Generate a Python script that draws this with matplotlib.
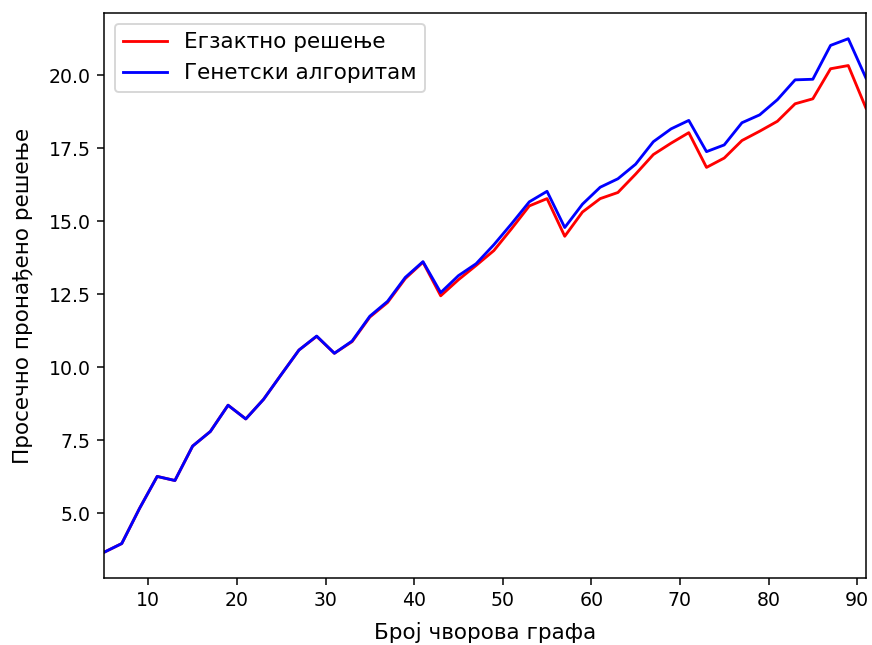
import numpy as np
import matplotlib
matplotlib.use("Agg")
import matplotlib.pyplot as plt

# broj cvorova grafa
nodes = np.arange(5, 92, 2)

exact = [3.66, 3.96, 5.16, 6.26, 6.12, 7.30, 7.80, 8.70, 8.23, 8.90,
         9.75, 10.59, 11.06, 10.48, 10.88, 11.72, 12.22, 13.04, 13.60, 12.45,
         13.00, 13.49, 14.00, 14.75, 15.53, 15.78, 14.49, 15.32, 15.78, 15.99,
         16.62, 17.29, 17.68, 18.04, 16.85, 17.17, 17.77, 18.09, 18.43, 19.03,
         19.20, 20.23, 20.34, 18.88]

genetic = [3.66, 3.96, 5.16, 6.26, 6.12, 7.30, 7.80, 8.70, 8.23, 8.90,
           9.75, 10.59, 11.07, 10.48, 10.90, 11.75, 12.26, 13.08, 13.62, 12.56,
           13.14, 13.55, 14.20, 14.92, 15.67, 16.03, 14.79, 15.59, 16.17, 16.46,
           16.96, 17.73, 18.17, 18.46, 17.39, 17.62, 18.38, 18.65, 19.17, 19.85,
           19.87, 21.03, 21.26, 19.91]

fig = plt.figure(figsize=(6.4, 4.734), dpi=136.25)
ax = fig.add_axes([0.1193, 0.1039, 0.8738, 0.8759])

ax.plot(nodes, exact, color="red", label="Егзактно решење")
ax.plot(nodes, genetic, color="blue", label="Генетски алгоритам")

ax.set_xlim(5, 91)
ax.set_xlabel("Број чворова графа", fontsize=11.4, labelpad=6)
ax.set_ylabel("Просечно пронађено решење", fontsize=11.4, labelpad=8.5)
ax.legend(loc="upper left", fontsize=11.4)

fig.savefig("out.png", dpi=136.25)
